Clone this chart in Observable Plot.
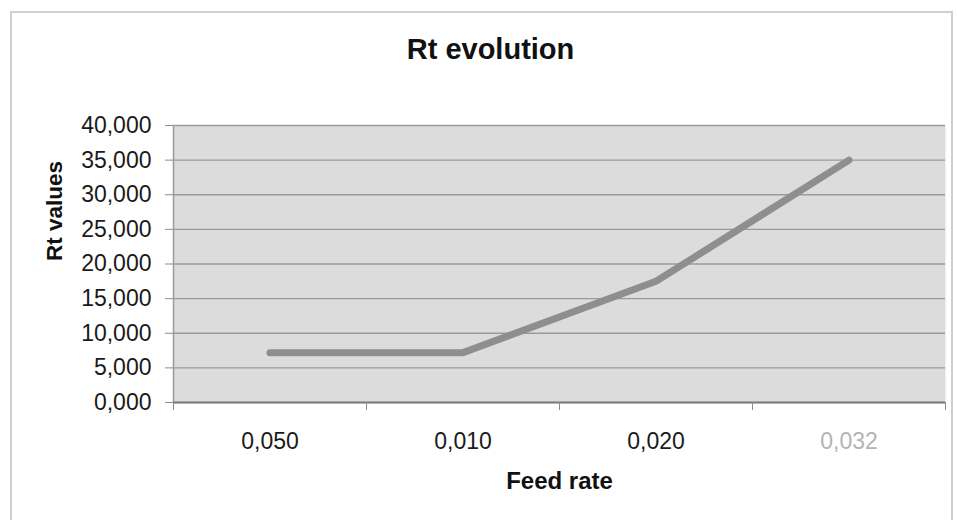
<!DOCTYPE html>
<html>
<head>
<meta charset="utf-8">
<script src="https://cdn.jsdelivr.net/npm/d3@7"></script>
<script src="https://cdn.jsdelivr.net/npm/@observablehq/plot@0.6"></script>
<style>
  body { margin: 0; background: #fff; }
  #wrap { position: relative; width: 957px; height: 520px; overflow: hidden; background: #fff; }
  #border { position: absolute; left: 10px; top: 11px; width: 943px; height: 530px; border: 2px solid #cfcfcf; box-sizing: border-box; }
  #wrap svg { position: absolute; left: 0; top: 0; }
</style>
</head>
<body>
<div id="wrap"><div id="border"></div></div>
<script>
// ---- data ----
const categories = ["0,050", "0,010", "0,020", "0,032"];
const rtValues = [7.2, 7.2, 17.5, 35.0];
const yTicks = [0, 5, 10, 15, 20, 25, 30, 35, 40];
const titleText = "Rt evolution";
const xLabel = "Feed rate";
const yLabel = "Rt values";

const data = categories.map((c, i) => ({ feed: c, rt: rtValues[i], pos: i + 0.5 }));
const boundaries = d3.range(categories.length + 1);
const font = "'Liberation Sans', Arial, sans-serif";

const chart = Plot.plot({
  width: 957,
  height: 520,
  marginLeft: 173,
  marginRight: 12,
  marginTop: 125,
  marginBottom: 118,
  style: { fontFamily: font, background: "transparent", color: "#222" },
  x: { domain: [0, categories.length], axis: null },
  y: { domain: [0, 40], axis: null },
  marks: [
    Plot.frame({ fill: "#dcdcdc", stroke: null }),
    Plot.gridY(yTicks, { stroke: "#929292", strokeOpacity: 0.9, strokeWidth: 1.3 }),
    Plot.ruleX([0], { stroke: "#9a9a9a", strokeWidth: 1.5 }),
    Plot.ruleY([0], { stroke: "#7c7c7c", strokeWidth: 2 }),
    Plot.axisY({
      ticks: yTicks,
      tickSize: 8,
      tickPadding: 14,
      tickFormat: d => d.toFixed(3).replace(".", ","),
      fontSize: 23,
      fill: "#1a1a1a",
      stroke: "#8c8c8c",
      label: null
    }),
    Plot.axisX({
      ticks: boundaries,
      tickSize: 8,
      tickFormat: () => "",
      stroke: "#8c8c8c",
      label: null
    }),
    Plot.line(data, {
      x: "pos", y: "rt",
      stroke: "#8e8e8e", strokeWidth: 7,
      strokeLinecap: "round", strokeLinejoin: "round"
    }),
    Plot.text(data, {
      x: "pos", text: "feed",
      frameAnchor: "bottom", lineAnchor: "bottom", dy: 46,
      fontSize: 23,
      fill: (d, i) => (i === categories.length - 1 ? "#b4b4b4" : "#1a1a1a")
    }),
    Plot.text([titleText], {
      text: d => d, frameAnchor: "top-left", textAnchor: "middle",
      lineAnchor: "bottom", dx: 317, dy: -67,
      fontSize: 29, fontWeight: "bold", fill: "#111"
    }),
    Plot.text([xLabel], {
      text: d => d, frameAnchor: "bottom", lineAnchor: "bottom", dy: 86,
      fontSize: 24, fontWeight: "bold", fill: "#111"
    }),
    Plot.text([yLabel], {
      text: d => d, frameAnchor: "left", lineAnchor: "bottom", rotate: -90,
      dx: -112, dy: -3,
      fontSize: 22.5, fontWeight: "bold", fill: "#111"
    })
  ]
});
document.getElementById("wrap").appendChild(chart);
</script>
</body>
</html>
